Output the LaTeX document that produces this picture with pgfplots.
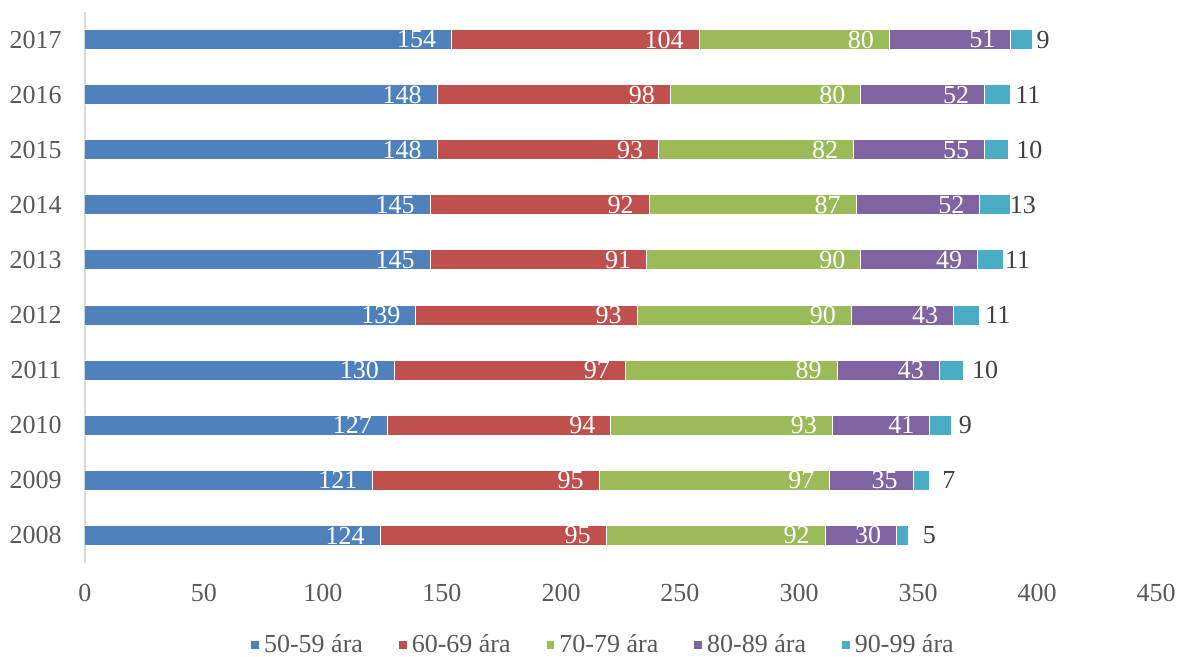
\documentclass[border=0pt]{standalone}
\usepackage{fontspec}
\setmainfont{Liberation Serif}
\usepackage{pgfplots}
\usepackage{pgfplotstable}
\pgfplotsset{compat=1.18}

\definecolor{cblue}{HTML}{4F81BD}
\definecolor{cred}{HTML}{C0504D}
\definecolor{cgreen}{HTML}{9BBB59}
\definecolor{cpurple}{HTML}{8064A2}
\definecolor{ccyan}{HTML}{4BACC6}
\definecolor{txtgray}{HTML}{595959}
\definecolor{lblgray}{HTML}{404040}
\definecolor{axgray}{HTML}{D9D9D9}

% y = 0 is 2008 ... 9 is 2017; off = gap of the outer label from the bar end (pt)
\pgfplotstableread{
yr a   b   c  d  e  off
0  124 95  92 30 5  10.5
1  121 95  97 35 7  9.5
2  127 94  93 41 9  7
3  130 97  89 43 10 11
4  139 93  90 43 11 9
5  145 91  90 49 11 7
6  145 92  87 52 13 6
7  148 93  82 55 10 10.5
8  148 98  80 52 11 8.5
9  154 104 80 51 9  5.5
}\agedata

\newcommand{\cf}{\fontsize{13}{15.5}\selectfont}

% nodes sit at the middle of a segment: move them to its inner end
\pgfplotsset{
  inlab/.style={
    visualization depends on={\thisrow{#1} \as \va},
    every node near coord/.append style={xshift={\va*0.595pt-7.5pt}},
  },
}

\begin{document}
\begin{tikzpicture}
\begin{axis}[
  at={(0,0)}, anchor=south west,
  scale only axis,
  width=535.5pt, height=275.5pt,
  xbar stacked,
  bar width=10pt,
  xmin=0, xmax=450,
  ymin=-0.5, ymax=9.5,
  xtick={0,50,...,450},
  ytick={0,...,9},
  yticklabels={2008,2009,2010,2011,2012,2013,2014,2015,2016,2017},
  axis x line*=bottom,
  axis y line*=left,
  x axis line style={draw=none},
  y axis line style={draw=axgray, line width=0.8pt},
  major tick length=0pt,
  /pgf/number format/assume math mode=true,
  tick label style={font=\cf, text=txtgray, inner sep=0pt},
  xticklabel style={anchor=north, yshift=-10.5pt},
  yticklabel style={anchor=east, xshift=-11.5pt},
  every axis plot/.append style={draw=white, line width=0.5pt},
  nodes near coords,
  point meta=explicit,
  every node near coord/.append style={font=\cf, text=white, anchor=east, inner sep=0pt},
  legend columns=5,
  legend style={
    at={(0.4846,-0.149)}, anchor=center,
    draw=none, font=\cf, text=txtgray,
    /tikz/every even column/.append style={column sep=15.5pt},
  },
  legend image code/.code={\fill[#1] (0pt,-2.2pt) rectangle (4.4pt,2.2pt);},
]
\addplot[fill=cblue, inlab=a] table[x=a, y=yr, meta=a] {\agedata};
\addplot[fill=cred, inlab=b] table[x=b, y=yr, meta=b] {\agedata};
\addplot[fill=cgreen, inlab=c] table[x=c, y=yr, meta=c] {\agedata};
\addplot[fill=cpurple, inlab=d] table[x=d, y=yr, meta=d] {\agedata};
\addplot[fill=ccyan,
  visualization depends on={\thisrow{e} \as \ve},
  visualization depends on={\thisrow{off} \as \myoff},
  every node near coord/.style={font=\cf, text=lblgray, anchor=center, inner sep=0pt,
    xshift={\ve*0.595pt+\myoff pt}},
] table[x=e, y=yr, meta=e] {\agedata};
\legend{50-59 ára, 60-69 ára, 70-79 ára, 80-89 ára, 90-99 ára}
\end{axis}
\pgfresetboundingbox
\path[use as bounding box] (-42.5pt,-47pt) rectangle (548.5pt,281.5pt);
\end{tikzpicture}
\end{document}
